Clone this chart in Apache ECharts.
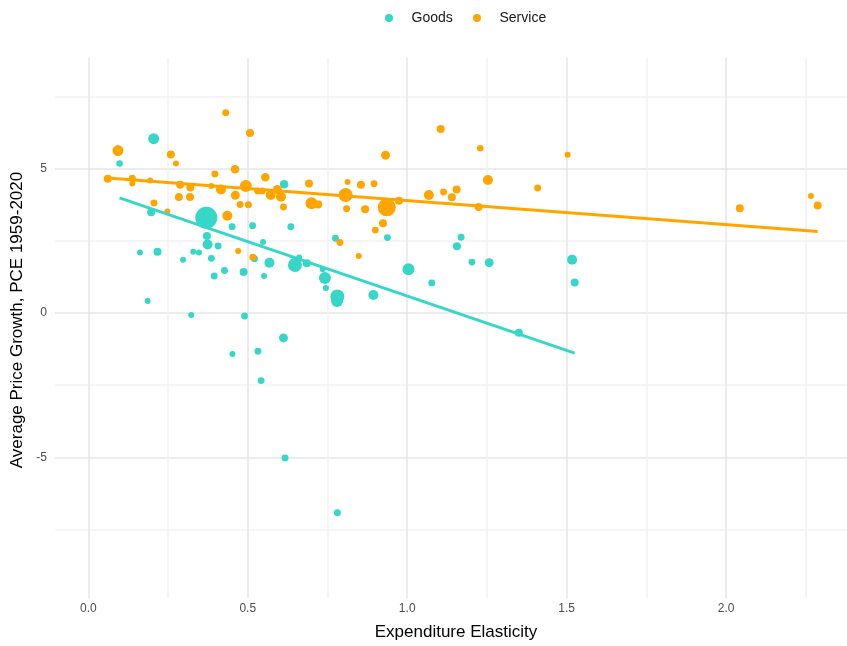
<!DOCTYPE html>
<html>
<head>
<meta charset="utf-8">
<script src="https://cdn.jsdelivr.net/npm/echarts@6/dist/echarts.min.js"></script>
<style>
html,body{margin:0;padding:0;background:#fff;}
#chart{width:847px;height:646px;}
</style>
</head>
<body>
<div id="chart"></div>
<script>
// Goods: expenditure elasticity, avg price growth, weight
const goodsX = [0.098,0.205,0.197,0.370,0.451,0.515,0.635,0.614,0.775,0.372,0.374,0.407,0.162,0.217,0.297,0.329,0.347,0.386,0.548,0.521,0.568,0.648,0.661,0.685,0.735,0.395,0.427,0.487,0.551,0.742,0.745,0.781,0.780,0.894,0.938,0.186,0.323,0.490,0.612,0.452,0.532,0.542,0.617,0.781,1.169,1.156,1.004,1.077,1.203,1.257,1.517,1.525,1.350];
const goodsY = [5.19,6.05,3.50,3.31,3.00,3.03,3.00,4.47,2.60,2.68,2.38,2.33,2.10,2.13,1.85,2.13,2.10,1.90,2.47,1.89,1.75,1.67,1.93,1.73,1.52,1.29,1.48,1.43,1.29,1.22,0.87,0.58,0.42,0.63,2.62,0.42,-0.06,-0.10,-0.86,-1.42,-1.32,-2.34,-5.02,-6.92,2.63,2.32,1.52,1.05,1.77,1.75,1.85,1.06,-0.68];
const goodsW = [1.1,3.0,1.6,12.1,1.2,1.2,1.2,1.8,1.2,1.6,2.5,1.2,0.9,1.6,0.9,0.9,0.9,1.2,0.9,1.2,2.5,4.9,0.9,1.6,0.9,1.2,1.2,1.6,0.9,3.6,0.9,4.9,3.6,2.5,1.2,0.9,0.9,1.2,2.0,0.9,1.2,1.2,1.2,1.2,1.2,1.6,3.6,1.2,1.2,2.0,2.5,1.6,1.6];

// Service
const serviceX = [0.431,0.507,0.093,0.259,0.275,0.397,0.460,0.555,0.692,0.813,0.061,0.138,0.138,0.194,0.288,0.320,0.284,0.319,0.386,0.416,0.461,0.494,0.476,0.502,0.531,0.545,0.572,0.593,0.604,0.612,0.700,0.721,0.807,0.810,0.206,0.248,0.436,0.789,0.848,0.470,0.516,0.900,0.924,0.868,0.936,1.105,0.932,1.229,1.503,0.855,0.896,0.974,1.068,1.114,1.140,1.155,1.253,1.224,1.409,2.043,2.266,2.287];
const serviceY = [6.95,6.25,5.64,5.50,5.19,4.83,4.99,4.71,4.50,4.55,4.66,4.68,4.50,4.60,4.45,4.36,4.03,4.03,4.41,4.29,4.09,4.41,3.77,3.76,4.24,4.24,4.10,4.29,4.04,3.68,3.81,3.77,4.10,3.62,3.82,3.53,3.38,2.45,1.98,2.16,1.94,2.88,3.12,3.60,3.67,6.39,5.48,5.72,5.49,4.45,4.49,3.90,4.10,4.20,4.02,4.29,4.62,3.68,4.34,3.64,4.06,3.73];
const serviceW = [1.2,1.6,3.0,1.6,0.9,1.2,1.8,1.8,1.6,0.9,1.6,1.2,0.9,0.9,1.6,1.6,1.6,1.6,0.9,2.5,2.0,3.6,1.2,1.2,1.2,1.2,2.5,2.0,2.5,1.2,3.6,1.6,4.9,1.2,1.2,0.9,2.5,1.2,0.9,0.9,1.2,1.2,1.6,1.6,8.1,1.6,2.0,1.1,0.9,1.6,1.2,1.6,2.5,1.2,1.6,1.6,2.5,1.6,1.2,1.6,0.9,1.6];

// Fitted lines (endpoints)
const goodsFitX = [0.098, 1.525];
const goodsFitY = [4.00, -1.385];
const serviceFitX = [0.061, 2.287];
const serviceFitY = [4.69, 2.83];

const xTickLabels = ['0.0','0.5','1.0','1.5','2.0'];
const yTickLabels = ['-5','0','5'];

const GOODS = '#36d6c8';
const SERVICE = '#ffa500';

function zip3(xs, ys, ws){ return xs.map((x,i)=>[x, ys[i], ws[i]]); }
function zip2(xs, ys){ return xs.map((x,i)=>[x, ys[i]]); }
const sizeFn = v => 2*Math.sqrt(v[2]*10);

const chart = echarts.init(document.getElementById('chart'), null, {renderer:'canvas'});
const font = 'Liberation Sans, Arial, Helvetica, sans-serif';
const legendBase = {
  top: 6,
  icon: 'circle',
  itemWidth: 35,
  itemHeight: 8,
  itemGap: 6,
  textStyle: {fontSize: 14, color: '#1a1a1a', fontFamily: font}
};

chart.setOption({
  animation: false,
  backgroundColor: '#ffffff',
  textStyle: {fontFamily: font},
  legend: [
    Object.assign({}, legendBase, {left: 380, data: ['Goods']}),
    Object.assign({}, legendBase, {left: 468, data: ['Service']})
  ],
  grid: {left: 55, right: 0, top: 58, bottom: 47, containLabel: false},
  xAxis: {
    type: 'value',
    min: -0.1044,
    max: 2.379,
    minInterval: 0.25,
    maxInterval: 0.25,
    name: 'Expenditure Elasticity',
    nameLocation: 'middle',
    nameGap: 26,
    nameTextStyle: {fontSize: 17, color: '#000', fontFamily: font, padding: [0,0,0,10]},
    axisLine: {show: false},
    axisTick: {show: false},
    axisLabel: {
      margin: 5, fontSize: 12, color: '#4d4d4d', fontFamily: font,
      showMinLabel: false, showMaxLabel: false,
      formatter: function(v){
        const k = Math.round(v/0.5);
        if (Math.abs(v/0.5 - k) < 1e-6) {
          const s = (k*0.5).toFixed(1);
          return xTickLabels.indexOf(s) >= 0 ? s : '';
        }
        return '';
      }
    },
    splitLine: {show: true, showMinLine: false, showMaxLine: false,
      lineStyle: {color: ['#e6e6e6','#f2f2f2'], width: 1.5}}
  },
  yAxis: {
    type: 'value',
    min: -9.88,
    max: 8.85,
    minInterval: 2.5,
    maxInterval: 2.5,
    name: 'Average Price Growth, PCE 1959-2020',
    nameLocation: 'middle',
    nameGap: 19,
    nameRotate: 90,
    nameTextStyle: {fontSize: 17, color: '#000', fontFamily: font, padding: [0,0,0,16]},
    axisLine: {show: false},
    axisTick: {show: false},
    axisLabel: {
      margin: 8, fontSize: 12, color: '#4d4d4d', fontFamily: font,
      showMinLabel: false, showMaxLabel: false,
      formatter: function(v){
        const k = Math.round(v/5);
        if (Math.abs(v/5 - k) < 1e-6) {
          const s = String(k*5);
          return yTickLabels.indexOf(s) >= 0 ? s : '';
        }
        return '';
      }
    },
    splitLine: {show: true, showMinLine: false, showMaxLine: false,
      lineStyle: {color: ['#f2f2f2','#e6e6e6'], width: 1.5}}
  },
  series: [
    {name: 'Goods', type: 'scatter', data: zip3(goodsX, goodsY, goodsW),
     symbolSize: sizeFn, itemStyle: {color: GOODS, opacity: 1}, z: 2},
    {name: 'Service', type: 'scatter', data: zip3(serviceX, serviceY, serviceW),
     symbolSize: sizeFn, itemStyle: {color: SERVICE, opacity: 1}, z: 2},
    {name: 'Goods', type: 'line', data: zip2(goodsFitX, goodsFitY), showSymbol: false,
     symbol: 'none', lineStyle: {color: GOODS, width: 3}, itemStyle:{color:GOODS}, z: 3, silent: true},
    {name: 'Service', type: 'line', data: zip2(serviceFitX, serviceFitY), showSymbol: false,
     symbol: 'none', lineStyle: {color: SERVICE, width: 3}, itemStyle:{color:SERVICE}, z: 3, silent: true}
  ]
});
</script>
</body>
</html>
